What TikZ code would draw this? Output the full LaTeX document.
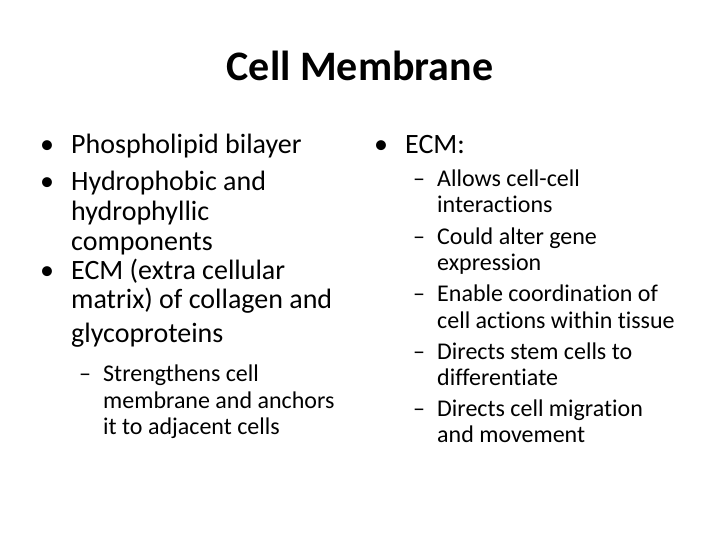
\documentclass[tikz,border=0pt]{standalone}
\usepackage{fontspec}
\setmainfont[Ligatures=NoCommon]{Carlito}
\begin{document}
\begin{tikzpicture}[x=1pt,y=-1pt,
  big/.style={anchor=base west,inner sep=0pt,font=\fontsize{28}{32}\selectfont},
  sml/.style={anchor=base west,inner sep=0pt,font=\fontsize{24}{28}\selectfont},
  ttl/.style={anchor=base,inner sep=0pt,font=\bfseries\fontsize{42}{46}\selectfont}]
\useasboundingbox (0,0) rectangle (720,540);
\node[ttl] (t) at (360,81) {Cell Membrane};
% left column
\node[big] (b1) at (40,154) {•};
\node[big] (l1) at (71,154) {Phospholipid bilayer};
\node[big] (b2) at (40,191) {•};
\node[big] (l2) at (71,191) {Hydrophobic and};
\node[big] (l3) at (71,221) {hydrophyllic};
\node[big] (l4) at (71,250) {components};
\node[big] (b3) at (40,279) {•};
\node[big] (l5) at (71,279) {ECM (extra cellular};
\node[big] (l6) at (71,308) {matrix) of collagen and};
\node[big] (l7) at (71,342) {glycoproteins};
\node[sml] (d1) at (79,381) {–};
\node[sml] (s1) at (103,381) {Strengthens cell};
\node[sml] (s2) at (103,408) {membrane and anchors};
\node[sml] (s3) at (103,434) {it to adjacent cells};
% right column
\node[big] (b4) at (374,154) {•};
\node[big] (r0) at (405,154) {ECM:};
\node[sml] (d2) at (413,187) {–};
\node[sml] (r1) at (437,187) {Allows cell-cell};
\node[sml] (r2) at (437,213) {interactions};
\node[sml] (d3) at (413,244) {–};
\node[sml] (r3) at (437,244) {Could alter gene};
\node[sml] (r4) at (437,270) {expression};
\node[sml] (d4) at (413,301) {–};
\node[sml] (r5) at (437,301) {Enable coordination of};
\node[sml] (r6) at (437,328) {cell actions within tissue};
\node[sml] (d5) at (413,359) {–};
\node[sml] (r7) at (437,359) {Directs stem cells to};
\node[sml] (r8) at (437,385) {differentiate};
\node[sml] (d6) at (413,416) {–};
\node[sml] (r9) at (437,416) {Directs cell migration};
\node[sml] (r10) at (437,442) {and movement};
\end{tikzpicture}
\end{document}
